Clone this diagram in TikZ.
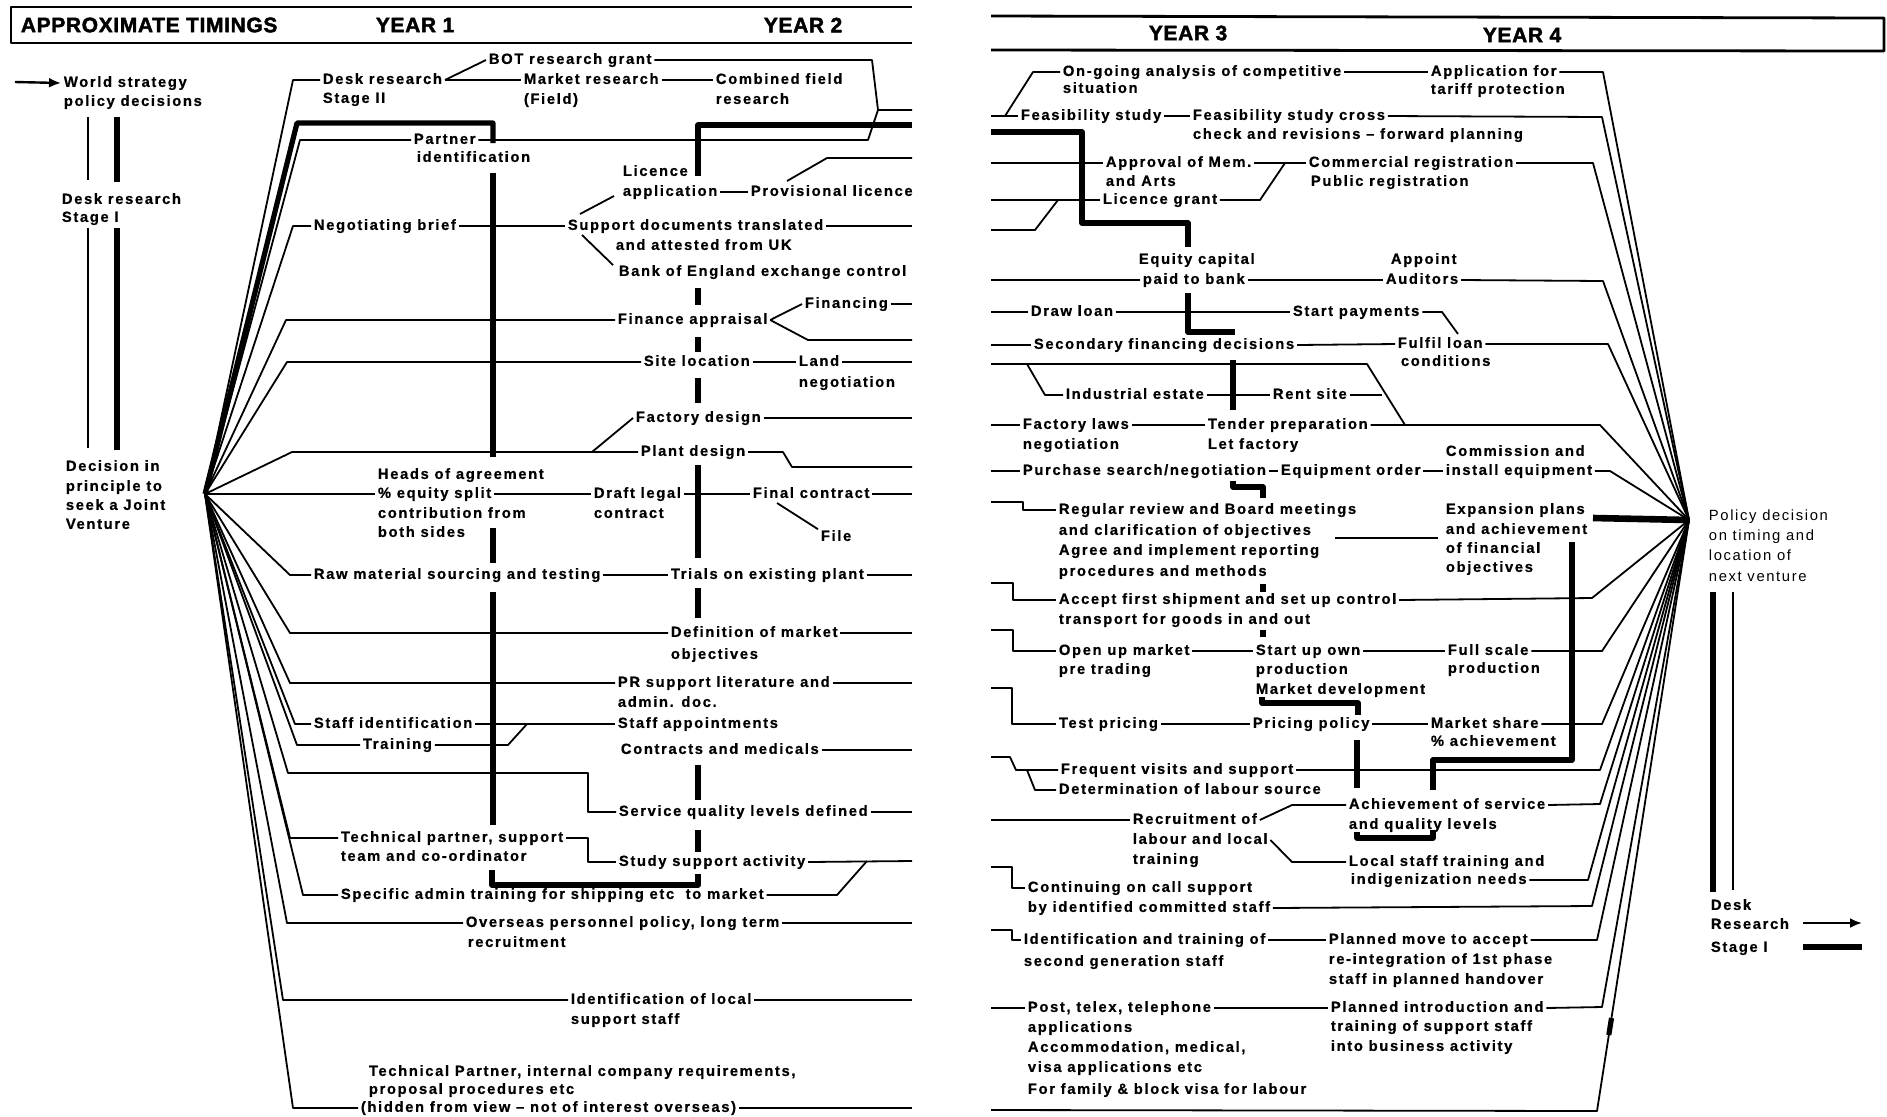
\documentclass[tikz,border=0pt]{standalone}
\usepackage{fontspec}
\setmainfont{Liberation Sans}[LetterSpace=11,BoldFeatures={FakeBold=0.6}]
\newfontfamily\hdfont{Liberation Sans}[LetterSpace=3,BoldFeatures={FakeBold=2}]
\usetikzlibrary{arrows.meta}
\begin{document}
\begin{tikzpicture}[x=0.5pt,y=-0.5pt,line width=0.9pt,line join=round,
 lbl/.style={inner xsep=1pt,inner ysep=0pt,anchor=west,text height=5.4pt,text depth=1.5pt,font=\fontsize{7.4pt}{9pt}\selectfont\bfseries},
 lgt/.style={lbl,font=\fontsize{7.4pt}{9pt}\selectfont},
 hd/.style={inner sep=0pt,anchor=west,font=\hdfont\fontsize{10.5pt}{12pt}\selectfont\bfseries},
 thk/.style={line width=2.6pt},
 frame/.style={line width=1.4pt},
 arr/.style={-{Latex[length=6pt,width=5pt]},line width=1.2pt}]
\path[use as bounding box,fill=white] (0,0) rectangle (1887,1116);
% ---------------- headers
\draw[frame] (912,7) -- (11,7) -- (11,43) -- (912,43);
\node[hd] (h0) at (20,25) {APPROXIMATE TIMINGS};
\node[hd] (h1) at (375,25) {YEAR 1};
\node[hd] (h2) at (763,25) {YEAR 2};
\draw[frame] (991,16) -- (1884,18) -- (1884,51) -- (991,50);
\node[hd] (h3) at (1148,33) {YEAR 3};
\node[hd] (h4) at (1482,35) {YEAR 4};
% ---------------- left legend
\coordinate (a0) at (15,82);
\node[lbl] (ws) at (61,83) {World strategy};
\node[lbl] (ws2) at (61,102) {policy decisions};
\draw[arr] (a0) -- (ws.west);
\draw (88,117) -- (88,180);
\draw[thk] (117,117) -- (117,182);
\node[lbl] (ds1) at (59,200) {Desk research};
\node[lbl] (ds2) at (59,218) {Stage I};
\draw (88,228) -- (88,448);
\draw[thk] (117,228) -- (117,450);
\node[lbl] (dc1) at (63,467) {Decision in};
\node[lbl] (dc2) at (63,487) {principle to};
\node[lbl] (dc3) at (63,506) {seek a Joint};
\node[lbl] (dc4) at (63,525) {Venture};
% ---------------- left fan
\coordinate (L) at (205,494);
\node[lbl] (dr) at (320,80) {Desk research};
\node[lbl] (dr2) at (320,99) {Stage II};
\node[lbl] (bot) at (486,60) {BOT research grant};
\node[lbl] (mr) at (521,80) {Market research};
\node[lbl] (mr2) at (521,100) {(Field)};
\node[lbl] (cf) at (713,80) {Combined field};
\node[lbl] (cf2) at (713,100) {research};
\draw (L) -- (293,80) -- (dr.west);
\draw (dr.east) -- (bot.west);
\draw (dr.east) -- (mr.west);
\draw (mr.east) -- (cf.west);
\draw (bot.east) -- (872,60) -- (878,110) -- (912,110);
\draw[thk] (L) -- (297,123) -- (493,123) -- (493,143);
\node[lbl] (pa) at (411,140) {Partner};
\node[lbl] (pa2) at (414,158) {identification};
\draw (L) -- (300,140) -- (pa.west);
\draw (pa.east) -- (868,140) -- (878,110);
\draw[thk] (493,173) -- (493,457);
\draw[thk] (493,528) -- (493,563);
\draw[thk] (493,592) -- (493,825);
\draw[thk] (492,870) -- (492,885) -- (698,885) -- (698,874);
% licence
\draw[thk] (698,176) -- (698,125) -- (912,125);
\node[lbl] (lic) at (620,172) {Licence};
\node[lbl] (app) at (620,192) {application};
\node[lbl] (pl) at (748,192) {Provisional licence};
\draw (app.east) -- (pl.west);
\draw (787,181) -- (827,158) -- (912,158);
% negotiating
\node[lbl] (nb) at (311,226) {Negotiating brief};
\node[lbl] (sd) at (565,226) {Support documents translated};
\node[lbl] (sd2) at (613,246) {and attested from UK};
\node[lbl] (boe) at (616,272) {Bank of England exchange control};
\draw (L) -- (293,226) -- (nb.west);
\draw (nb.east) -- (sd.west);
\draw (sd.east) -- (912,226);
\draw (580,214) -- (614,196);
\draw (582,235) -- (613,265);
% spine
\draw[thk] (698,288) -- (698,305);
\draw[thk] (698,337) -- (698,352);
\draw[thk] (698,378) -- (698,403);
\draw[thk] (698,465) -- (698,558);
\draw[thk] (698,588) -- (698,618);
\draw[thk] (698,765) -- (698,800);
\draw[thk] (698,830) -- (698,852);
% finance
\node[lbl] (fa) at (615,320) {Finance appraisal};
\node[lbl] (fin) at (802,304) {Financing};
\draw (L) -- (286,320) -- (fa.west);
\draw (fa.east) -- (fin.west);
\draw (fa.east) -- (808,340) -- (912,340);
\draw (fin.east) -- (912,304);
% site
\node[lbl] (sl) at (641,362) {Site location};
\node[lbl] (land) at (796,362) {Land};
\node[lbl] (land2) at (796,383) {negotiation};
\draw (L) -- (287,362) -- (sl.west);
\draw (sl.east) -- (land.west);
\draw (land.east) -- (912,362);
% factory / plant design
\node[lbl] (fd) at (633,418) {Factory design};
\draw (fd.east) -- (912,418);
\draw (fd.west) -- (592,452);
\node[lbl] (pd) at (638,452) {Plant design};
\draw (L) -- (292,452) -- (pd.west);
\draw (pd.east) -- (783,452) -- (792,467) -- (912,467);
% heads of agreement
\node[lbl] (ha) at (375,475) {Heads of agreement};
\node[lbl] (eq) at (375,494) {\% equity split};
\node[lbl] (ha3) at (375,514) {contribution from};
\node[lbl] (ha4) at (375,533) {both sides};
\node[lbl] (dl) at (591,494) {Draft legal};
\node[lbl] (dl2) at (591,514) {contract};
\node[lbl] (fc) at (750,494) {Final contract};
\node[lbl] (file) at (818,537) {File};
\draw (L) -- (eq.west);
\draw (eq.east) -- (dl.west);
\draw (dl.east) -- (fc.west);
\draw (fc.east) -- (912,494);
\draw (777,503) -- (file.north west);
% raw material
\node[lbl] (rm) at (311,575) {Raw material sourcing and testing};
\node[lbl] (tr) at (668,575) {Trials on existing plant};
\draw (L) -- (290,575) -- (rm.west);
\draw (rm.east) -- (tr.west);
\draw (tr.east) -- (912,575);
% definition
\node[lbl] (dm) at (668,633) {Definition of market};
\node[lbl] (dm2) at (668,655) {objectives};
\draw (L) -- (290,633) -- (dm.west);
\draw (dm.east) -- (912,633);
% PR
\node[lbl] (pr) at (615,683) {PR support literature and};
\node[lbl] (pr2) at (615,703) {admin. doc.};
\draw (L) -- (290,683) -- (pr.west);
\draw (pr.east) -- (912,683);
% staff
\node[lbl] (si) at (311,724) {Staff identification};
\node[lbl] (sa) at (615,724) {Staff appointments};
\node[lbl] (trn) at (360,745) {Training};
\draw (L) -- (295,724) -- (si.west);
\draw (si.east) -- (sa.west);
\draw (L) -- (297,745) -- (trn.west);
\draw (trn.east) -- (508,745) -- (527,724);
\node[lbl] (cm) at (618,750) {Contracts and medicals};
\draw (cm.east) -- (912,750);
% service quality
\node[lbl] (sq) at (616,812) {Service quality levels defined};
\draw (L) -- (288,773) -- (588,773) -- (588,812) -- (sq.west);
\draw (sq.east) -- (912,812);
% technical partner
\node[lbl] (tp) at (338,838) {Technical partner, support};
\node[lbl] (tp2) at (338,857) {team and co-ordinator};
\node[lbl] (ss) at (616,862) {Study support activity};
\draw (L) -- (290,838) -- (tp.west);
\draw (tp.east) -- (588,838) -- (588,862) -- (ss.west);
\draw (ss.east) -- (912,861);
\node[lbl] (spa) at (338,895) {Specific admin training for shipping etc\ \ to market};
\draw (L) -- (303,895) -- (spa.west);
\draw (spa.east) -- (837,895) -- (867,861);
% overseas
\node[lbl] (ov) at (463,923) {Overseas personnel policy, long term};
\node[lbl] (ov2) at (465,943) {recruitment};
\draw (L) -- (287,923) -- (ov.west);
\draw (ov.east) -- (912,923);
\node[lbl] (il) at (568,1000) {Identification of local};
\node[lbl] (il2) at (568,1020) {support staff};
\draw (L) -- (283,1000) -- (il.west);
\draw (il.east) -- (912,1000);
\node[lbl] (tpa) at (366,1072) {Technical Partner, internal company requirements,};
\node[lbl] (tpb) at (366,1090) {proposal procedures etc};
\node[lbl] (hv) at (358,1108) {(hidden from view – not of interest overseas)};
\draw (L) -- (293,1108) -- (hv.west);
\draw (hv.east) -- (912,1108);
% ---------------- right panel
\coordinate (R) at (1689,520);
\node[lbl] (og) at (1060,72) {On-going analysis of competitive};
\node[lbl] (og2) at (1060,89) {situation};
\node[lbl] (apt) at (1428,72) {Application for};
\node[lbl] (apt2) at (1428,90) {tariff protection};
\node[lbl] (fs) at (1018,116) {Feasibility study};
\node[lbl] (fsc) at (1190,116) {Feasibility study cross};
\node[lbl] (fsc2) at (1190,135) {check and revisions – forward planning};
\draw (991,116) -- (1005,116) -- (1033,72) -- (og.west);
\draw (1005,116) -- (fs.west);
\draw (og.east) -- (apt.west);
\draw (apt.east) -- (1603,72) -- (R);
\draw (fs.east) -- (fsc.west);
\draw (fsc.east) -- (1602,117) -- (R);
\draw[thk] (991,132) -- (1082,132) -- (1082,223) -- (1188,223) -- (1188,247);
\node[lbl] (am) at (1103,163) {Approval of Mem.};
\node[lbl] (am2) at (1103,182) {and Arts};
\node[lbl] (cr) at (1306,163) {Commercial registration};
\node[lbl] (cr2) at (1308,182) {Public registration};
\node[lbl] (lg) at (1100,200) {Licence grant};
\draw (991,163) -- (am.west);
\draw (am.east) -- (cr.west);
\draw (cr.east) -- (1593,163) -- (R);
\draw (991,200) -- (lg.west);
\draw (lg.east) -- (1260,200) -- (1285,163);
\draw (991,230) -- (1035,230) -- (1058,200);
\node[lbl] (ec) at (1136,260) {Equity capital};
\node[lbl] (pb) at (1140,280) {paid to bank};
\node[lbl] (aa) at (1388,260) {Appoint};
\node[lbl] (au) at (1383,280) {Auditors};
\draw (991,280) -- (pb.west);
\draw (pb.east) -- (au.west);
\draw (au.east) -- (1603,281) -- (R);
\node[lbl] (dwl) at (1028,312) {Draw loan};
\node[lbl] (stp) at (1290,312) {Start payments};
\draw (991,312) -- (dwl.west);
\draw (dwl.east) -- (stp.west);
\draw (stp.east) -- (1442,312) -- (1458,334);
\draw[thk] (1188,293) -- (1188,332) -- (1235,332);
\node[lbl] (sfd) at (1031,345) {Secondary financing decisions};
\node[lbl] (ful) at (1395,344) {Fulfil loan};
\node[lbl] (ful2) at (1398,362) {conditions};
\draw (991,345) -- (sfd.west);
\draw (sfd.east) -- (ful.west);
\draw (ful.east) -- (1608,344) -- (R);
\draw (991,364) -- (1367,364) -- (1405,425);
\node[lbl] (ies) at (1063,395) {Industrial estate};
\node[lbl] (rst) at (1270,395) {Rent site};
\draw (1027,364) -- (1045,395) -- (ies.west);
\draw (ies.east) -- (rst.west);
\draw (rst.east) -- (1382,395);
\draw[thk] (1233,360) -- (1233,410);
\node[lbl] (flw) at (1020,425) {Factory laws};
\node[lbl] (flw2) at (1020,445) {negotiation};
\node[lbl] (tdp) at (1205,425) {Tender preparation};
\node[lbl] (tdp2) at (1205,445) {Let factory};
\draw (991,425) -- (flw.west);
\draw (flw.east) -- (tdp.west);
\draw (tdp.east) -- (1600,425) -- (R);
\node[lbl] (psn) at (1020,471) {Purchase search/negotiation};
\node[lbl] (eqo) at (1278,471) {Equipment order};
\node[lbl] (cie) at (1443,452) {Commission and};
\node[lbl] (cie2) at (1443,471) {install equipment};
\draw (991,471) -- (psn.west);
\draw (psn.east) -- (eqo.west);
\draw (eqo.east) -- (cie2.west);
\draw (cie2.east) -- (1610,471) -- (R);
\draw[thk] (1233,481) -- (1233,487) -- (1263,487) -- (1263,498);
\node[lbl] (rrv) at (1056,510) {Regular review and Board meetings};
\node[lbl] (rrv2) at (1056,531) {and clarification of objectives};
\node[lbl] (rrv3) at (1056,551) {Agree and implement reporting};
\node[lbl] (rrv4) at (1056,572) {procedures and methods};
\draw (991,502) -- (1023,502) -- (1023,510) -- (rrv.west);
\node[lbl] (exp) at (1443,510) {Expansion plans};
\node[lbl] (exp2) at (1443,530) {and achievement};
\node[lbl] (exp3) at (1443,549) {of financial};
\node[lbl] (exp4) at (1443,568) {objectives};
\draw (1335,538) -- (1438,538);
\draw[line width=3.3pt] (1593,518) -- (R);
\draw[thk] (1572,542) -- (1572,760) -- (1433,760) -- (1433,790);
\draw[thk] (1263,584) -- (1263,592);
\draw[thk] (1263,630) -- (1263,637);
\node[lbl] (afs) at (1056,600) {Accept first shipment and set up control};
\node[lbl] (afs2) at (1056,620) {transport for goods in and out};
\draw (991,583) -- (1013,583) -- (1013,600) -- (afs.west);
\draw (afs.east) -- (1592,598) -- (R);
\node[lbl] (oum) at (1056,651) {Open up market};
\node[lbl] (oum2) at (1056,670) {pre trading};
\node[lbl] (suo) at (1253,651) {Start up own};
\node[lbl] (suo2) at (1253,670) {production};
\node[lbl] (fsp) at (1445,651) {Full scale};
\node[lbl] (fsp2) at (1445,669) {production};
\draw (991,630) -- (1013,630) -- (1013,651) -- (oum.west);
\draw (oum.east) -- (suo.west);
\draw (suo.east) -- (fsp.west);
\draw (fsp.east) -- (1602,651) -- (R);
\node[lbl] (mdv) at (1253,690) {Market development};
\draw[thk] (1262,697) -- (1262,703) -- (1358,703) -- (1358,715);
\node[lbl] (tpc) at (1056,724) {Test pricing};
\node[lbl] (ppl) at (1250,724) {Pricing policy};
\node[lbl] (msh) at (1428,724) {Market share};
\node[lbl] (msh2) at (1428,742) {\% achievement};
\draw (991,688) -- (1012,688) -- (1012,724) -- (tpc.west);
\draw (tpc.east) -- (ppl.west);
\draw (ppl.east) -- (msh.west);
\draw (msh.east) -- (1602,724) -- (R);
\draw[thk] (1357,740) -- (1357,788);
\node[lbl] (fqv) at (1058,770) {Frequent visits and support};
\node[lbl] (dtl) at (1056,790) {Determination of labour source};
\draw (991,757) -- (1010,757) -- (1016,770) -- (fqv.west);
\draw (1027,770) -- (1035,790) -- (dtl.west);
\draw (fqv.east) -- (1600,770) -- (R);
\node[lbl] (rcr) at (1130,820) {Recruitment of};
\node[lbl] (rcr2) at (1130,840) {labour and local};
\node[lbl] (rcr3) at (1130,860) {training};
\node[lbl] (aos) at (1346,805) {Achievement of service};
\node[lbl] (aos2) at (1346,825) {and quality levels};
\node[lbl] (lst) at (1346,862) {Local staff training and};
\node[lbl] (lst2) at (1348,880) {indigenization needs};
\draw (991,820) -- (rcr.west);
\draw (rcr.east) -- (1292,805) -- (aos.west);
\draw (aos.east) -- (1600,804) -- (R);
\draw (rcr2.east) -- (1292,862) -- (lst.west);
\draw (lst2.east) -- (1588,880) -- (R);
\draw[thk] (1357,832) -- (1357,838) -- (1433,838) -- (1433,830);
\node[lbl] (coc) at (1025,888) {Continuing on call support};
\node[lbl] (coc2) at (1025,908) {by identified committed staff};
\draw (991,867) -- (1012,867) -- (1012,888) -- (coc.west);
\draw (coc2.east) -- (1592,906) -- (R);
\node[lbl] (itr) at (1021,940) {Identification and training of};
\node[lbl] (itr2) at (1021,962) {second generation staff};
\node[lbl] (pmv) at (1326,940) {Planned move to accept};
\node[lbl] (pmv2) at (1326,960) {re-integration of 1st phase};
\node[lbl] (pmv3) at (1326,980) {staff in planned handover};
\draw (991,930) -- (1012,930) -- (1012,940) -- (itr.west);
\draw (itr.east) -- (pmv.west);
\draw (pmv.east) -- (1597,940) -- (R);
\node[lbl] (ptt) at (1025,1008) {Post, telex, telephone};
\node[lbl] (ptt2) at (1025,1028) {applications};
\node[lbl] (ptt3) at (1025,1048) {Accommodation, medical,};
\node[lbl] (ptt4) at (1025,1068) {visa applications etc};
\node[lbl] (ptt5) at (1025,1090) {For family \& block visa for labour};
\node[lbl] (pin) at (1328,1008) {Planned introduction and};
\node[lbl] (pin2) at (1328,1027) {training of support staff};
\node[lbl] (pin3) at (1328,1047) {into business activity};
\draw (991,1008) -- (ptt.west);
\draw (ptt.east) -- (pin.west);
\draw (pin.east) -- (1602,1007) -- (R);
\draw (991,1110) -- (1597,1111) -- (R);
\draw[thk] (1608.8,1035) -- (1611.5,1018);
% ---------------- right legend
\node[lgt] (pdn) at (1706,517) {Policy decision};
\node[lgt] (pdn2) at (1706,537) {on timing and};
\node[lgt] (pdn3) at (1706,557) {location of};
\node[lgt] (pdn4) at (1706,578) {next venture};
\draw[thk] (1713,592) -- (1713,892);
\draw (1733,592) -- (1733,890);
\node[lbl] (dsk) at (1708,906) {Desk};
\node[lbl] (dsk2) at (1708,925) {Research};
\node[lbl] (dsk3) at (1708,948) {Stage I};
\coordinate (ar1) at (1803,923);
\coordinate (ar2) at (1862,923);
\draw[arr] (ar1) -- (ar2);
\coordinate (tk1) at (1803,947);
\coordinate (tk2) at (1862,947);
\draw[thk] (tk1) -- (tk2);
\end{tikzpicture}
\end{document}
